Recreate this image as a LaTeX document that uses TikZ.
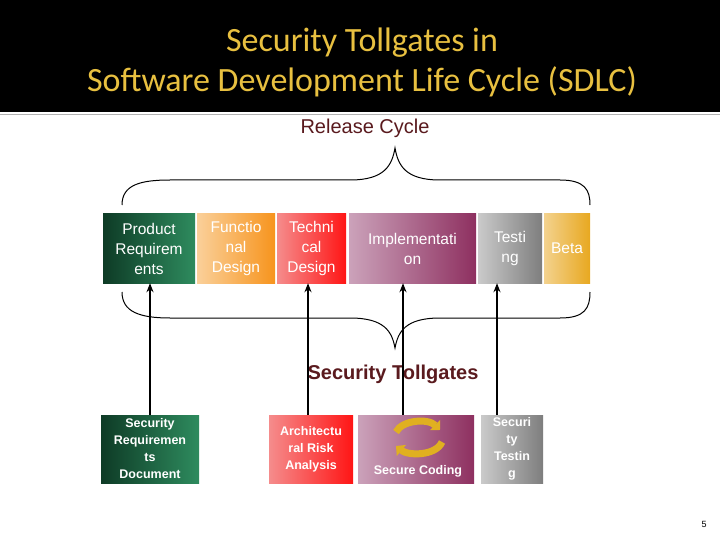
\documentclass[tikz,border=0pt]{standalone}
\usepackage{fontspec}
\setmainfont{Liberation Sans}
\newfontfamily\titlefont{Carlito}
\usetikzlibrary{arrows.meta}
\definecolor{ttl}{HTML}{E8C040}
\definecolor{dred}{HTML}{5A1A1E}
\definecolor{gA}{HTML}{0E3B26}\definecolor{gB}{HTML}{2E8B5E}
\definecolor{oA}{HTML}{FAD09A}\definecolor{oB}{HTML}{F7941D}
\definecolor{rA}{HTML}{F58C8C}\definecolor{rB}{HTML}{FF1515}
\definecolor{pA}{HTML}{CBA2BA}\definecolor{pB}{HTML}{8E3060}
\definecolor{sA}{HTML}{CACACA}\definecolor{sB}{HTML}{7E7E7E}
\definecolor{yA}{HTML}{F3D28E}\definecolor{yB}{HTML}{E8A820}
\definecolor{gold}{HTML}{E0B020}
\tikzset{
 gbox/.style={minimum height=69pt, inner sep=1pt, align=center, text=white, font=\fontsize{15.5}{20}\selectfont},
 sbox/.style={minimum height=68pt, inner sep=1pt, align=center, text=white, font=\bfseries\fontsize{12.5}{17}\selectfont},
 tg/.style={-{Stealth[length=9pt,width=7pt]}, line width=2pt},
 brace/.style={line width=1pt}
}
\begin{document}
\begin{tikzpicture}[x=1pt,y=-1pt]
\useasboundingbox (0,0) rectangle (720,540);
\fill[white] (0,0) rectangle (720,540);
\fill[black] (0,0) rectangle (720,112);
\draw[gray!60, line width=1pt] (0,115) -- (720,115);
\node[text=ttl, align=center, font=\titlefont\fontsize{34}{40}\selectfont] (title) at (362,62) {Security Tollgates in\\Software Development Life Cycle (SDLC)};
\node[text=dred, font=\fontsize{20}{24}\selectfont] (rc) at (365,128) {Release Cycle};
% top brace
\draw[brace] (122,205) .. controls (122,185) and (140,180) .. (170,180) -- (350,180) .. controls (385,180) and (392,165) .. (395,148)
 .. controls (398,165) and (405,180) .. (440,180) -- (560,180) .. controls (585,180) and (590,190) .. (590,205);
% bottom brace
\draw[brace] (122,292) .. controls (122,312) and (140,318) .. (170,318) -- (350,318) .. controls (385,318) and (392,332) .. (395,348)
 .. controls (398,332) and (405,318) .. (440,318) -- (560,318) .. controls (585,318) and (590,308) .. (590,292);
% top boxes
\node[gbox, minimum width=92pt, left color=gA, right color=gB] (pr) at (149,248.5) {Product\\Requirem\\ents};
\node[gbox, minimum width=78pt, left color=oA, right color=oB] (fd) at (236,248.5) {Functio\\nal\\Design};
\node[gbox, minimum width=69pt, left color=rA, right color=rB] (td) at (311.5,248.5) {Techni\\cal\\Design};
\node[gbox, minimum width=127pt, left color=pA, right color=pB] (im) at (412.5,248.5) {Implementati\\on};
\node[gbox, minimum width=64pt, left color=sA, right color=sB] (te) at (510,248.5) {Testi\\ng};
\node[gbox, minimum width=46pt, left color=yA, right color=yB] (be) at (567,248.5) {Beta};
\node[text=dred, font=\bfseries\fontsize{20}{24}\selectfont] (st) at (393,374) {Security Tollgates};
% bottom boxes
\node[sbox, minimum width=98pt, left color=gA, right color=gB] (sr) at (150,449) {Security\\Requiremen\\ts\\Document};
\node[sbox, minimum width=84pt, left color=rA, right color=rB] (ar) at (311,449) {Architectu\\ral Risk\\Analysis};
\node[sbox, minimum width=116pt, left color=pA, right color=pB] (sc) at (416,449) {};
\node[text=white, font=\bfseries\fontsize{12.5}{15}\selectfont] (sct) at (418,471) {Secure Coding};
\node[sbox, minimum width=62pt, left color=sA, right color=sB] (stt) at (512,449) {Securi\\ty\\Testin\\g};
% icon
\draw[line width=7pt, draw=gold, -{Triangle[length=7pt,width=14pt]}] (396,432) .. controls (402,420) and (428,418) .. (440,430);
\draw[line width=7pt, draw=gold, -{Triangle[length=7pt,width=14pt]}] (442,442) .. controls (436,456) and (408,456) .. (396,446);
% arrows
\draw[tg] (sr.north -| 150,0) -- (pr.south -| 150,0);
\draw[tg] (ar.north -| 308,0) -- (td.south -| 308,0);
\draw[tg] (sc.north -| 403,0) -- (im.south -| 403,0);
\draw[tg] (stt.north -| 497,0) -- (te.south -| 497,0);
\node[font=\fontsize{9}{10}\selectfont] (pg) at (704,524) {5};
\end{tikzpicture}
\end{document}
